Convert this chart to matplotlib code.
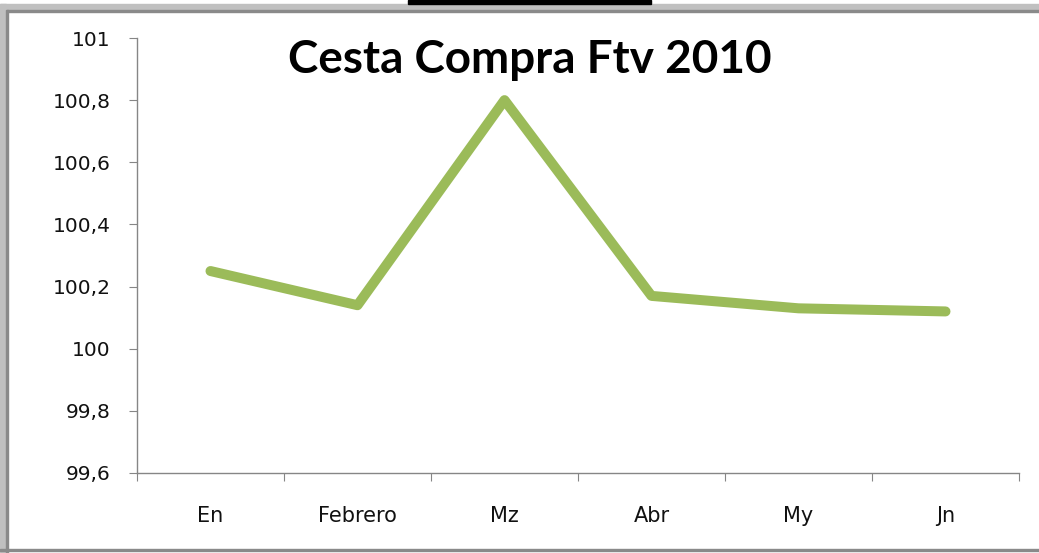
import matplotlib
matplotlib.use("Agg")
import matplotlib.pyplot as plt
from matplotlib.patches import Rectangle

meses = ["En", "Febrero", "Mz", "Abr", "My", "Jn"]
valores = [100.25, 100.14, 100.80, 100.17, 100.13, 100.12]
y_ticks = [99.6, 99.8, 100.0, 100.2, 100.4, 100.6, 100.8, 101.0]
y_labels = ["99,6", "99,8", "100", "100,2", "100,4", "100,6", "100,8", "101"]

plt.rcParams['font.family'] = ['DejaVu Sans']

fig = plt.figure(figsize=(10.39, 5.53), dpi=100)
W, H = 1039, 553

# marco gris alrededor del grafico (como en la captura)
def px_rect(x0, y0, x1, y1, color):
    fig.patches.append(Rectangle((x0 / W, 1 - y1 / H), (x1 - x0) / W, (y1 - y0) / H,
                                 transform=fig.transFigure, color=color, zorder=0))

px_rect(0, 4, W, 10, "#c0c0c0")
px_rect(0, 10, W, 12, "#8a8a8a")
px_rect(0, 4, 6, H, "#c0c0c0")
px_rect(6, 10, 8, H, "#8a8a8a")
px_rect(0, 549, W, 551, "#8a8a8a")
px_rect(408, 0, 651, 4, "#000000")

ax = fig.add_axes([137 / W, 80 / H, (1019 - 137) / W, (515 - 80) / H])
xs = [i + 0.5 for i in range(len(meses))]
ax.plot(xs, valores, color="#9BBB59", lw=7.2, solid_capstyle="round", solid_joinstyle="round")

ax.set_xlim(0, len(meses))
ax.set_ylim(99.6, 101.0)
ax.set_yticks(y_ticks)
ax.set_yticklabels(y_labels)
ax.set_xticks(range(len(meses) + 1))
ax.set_xticklabels([])
ax.set_xticks(xs, minor=True)
ax.set_xticklabels(meses, minor=True)

for s in ["top", "right"]:
    ax.spines[s].set_visible(False)
for s in ["left", "bottom"]:
    ax.spines[s].set_color("#868686")
    ax.spines[s].set_linewidth(1)

ax.tick_params(axis="y", direction="out", length=6, color="#868686", pad=13, labelsize=14.5, labelcolor="#111111")
ax.tick_params(axis="x", which="major", direction="out", length=6, color="#868686")
ax.tick_params(axis="x", which="minor", length=0, pad=24, labelsize=15, labelcolor="#111111")

fig.text(530 / W, 1 - 60 / H, "Cesta Compra Ftv 2010", ha="center", va="center",
         fontsize=33, fontweight="bold", color="#000000", family=["Lato", "DejaVu Sans"])

fig.savefig("out.png", dpi=100)
